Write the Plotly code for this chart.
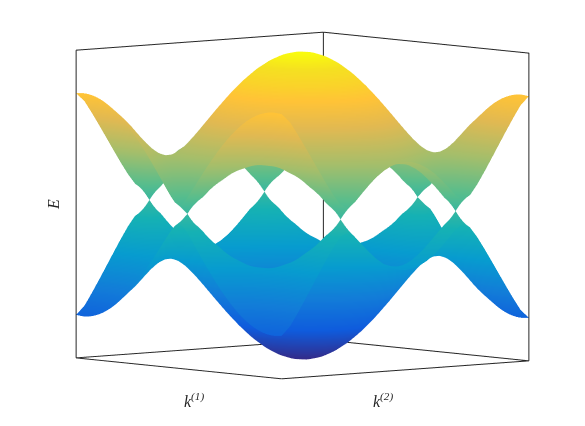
"""Two-band dispersion surface over (k1, k2), drawn as a pair of 3D sheets."""

import numpy as np
import plotly.graph_objects as go

# positive half of each axis; the picture is mirror symmetric about both
K1_HALF = [0.0, 0.131, 0.262, 0.393, 0.524, 0.654, 0.785, 0.916, 1.047, 1.178, 1.309, 1.440, 1.571,
           1.702, 1.833, 1.963, 2.094, 2.225, 2.356, 2.487, 2.618, 2.749, 2.880, 3.011, 3.142, 3.380]
K2_HALF = [0.0, 0.131, 0.262, 0.393, 0.524, 0.654, 0.785, 0.916, 1.047, 1.178, 1.309, 1.440, 1.571,
           1.702, 1.833, 1.963, 2.094, 2.250]

# upper band height, rows follow K2_HALF, columns K1_HALF
E_QUADRANT = [
    [3.000, 2.994, 2.977, 2.949, 2.909, 2.859, 2.798, 2.727, 2.646, 2.556, 2.457, 2.350, 2.236,
     2.116, 1.991, 1.863, 1.732, 1.602, 1.474, 1.351, 1.239, 1.142, 1.066, 1.017, 1.000, 1.055],
    [2.983, 2.977, 2.960, 2.932, 2.893, 2.842, 2.781, 2.710, 2.630, 2.540, 2.441, 2.335, 2.221,
     2.101, 1.976, 1.848, 1.717, 1.587, 1.459, 1.336, 1.224, 1.126, 1.049, 1.000, 0.983, 1.038],
    [2.932, 2.926, 2.909, 2.881, 2.842, 2.792, 2.732, 2.662, 2.581, 2.492, 2.394, 2.288, 2.175,
     2.056, 1.932, 1.804, 1.673, 1.543, 1.414, 1.291, 1.177, 1.078, 1.000, 0.949, 0.932, 0.988],
    [2.848, 2.842, 2.826, 2.798, 2.760, 2.710, 2.651, 2.581, 2.502, 2.414, 2.318, 2.213, 2.101,
     1.983, 1.859, 1.732, 1.602, 1.471, 1.342, 1.217, 1.101, 1.000, 0.919, 0.866, 0.847, 0.906],
    [2.732, 2.727, 2.710, 2.683, 2.646, 2.598, 2.540, 2.472, 2.394, 2.308, 2.213, 2.110, 2.000,
     1.884, 1.762, 1.635, 1.506, 1.375, 1.245, 1.119, 1.000, 0.894, 0.809, 0.752, 0.732, 0.796],
    [2.587, 2.582, 2.566, 2.540, 2.503, 2.457, 2.400, 2.335, 2.259, 2.176, 2.083, 1.983, 1.876,
     1.762, 1.642, 1.518, 1.390, 1.259, 1.129, 1.000, 0.877, 0.766, 0.672, 0.609, 0.587, 0.658],
    [2.414, 2.409, 2.394, 2.369, 2.334, 2.290, 2.236, 2.173, 2.101, 2.020, 1.932, 1.835, 1.732,
     1.622, 1.506, 1.385, 1.259, 1.130, 1.000, 0.869, 0.742, 0.622, 0.518, 0.443, 0.414, 0.501],
    [2.217, 2.213, 2.199, 2.175, 2.143, 2.101, 2.050, 1.991, 1.924, 1.848, 1.764, 1.673, 1.575,
     1.471, 1.361, 1.245, 1.124, 1.000, 0.874, 0.742, 0.611, 0.482, 0.361, 0.261, 0.217, 0.339],
    [2.000, 1.996, 1.983, 1.962, 1.932, 1.894, 1.848, 1.794, 1.732, 1.663, 1.587, 1.504, 1.414,
     1.319, 1.217, 1.111, 1.000, 0.884, 0.765, 0.643, 0.518, 0.390, 0.261, 0.131, 0.000, 0.237],
    [1.766, 1.762, 1.751, 1.732, 1.706, 1.674, 1.633, 1.587, 1.534, 1.474, 1.408, 1.336, 1.259,
     1.177, 1.091, 1.000, 0.906, 0.809, 0.710, 0.609, 0.510, 0.415, 0.327, 0.261, 0.235, 0.313],
    [1.518, 1.515, 1.506, 1.491, 1.471, 1.445, 1.414, 1.378, 1.336, 1.290, 1.239, 1.184, 1.126,
     1.064, 1.000, 0.934, 0.866, 0.799, 0.732, 0.669, 0.609, 0.559, 0.518, 0.492, 0.483, 0.512],
    [1.261, 1.259, 1.254, 1.245, 1.233, 1.217, 1.199, 1.177, 1.153, 1.126, 1.097, 1.066, 1.033,
     1.000, 0.966, 0.932, 0.898, 0.866, 0.836, 0.809, 0.785, 0.766, 0.751, 0.742, 0.739, 0.749],
    [1.000, 1.000, 1.000, 1.000, 1.000, 1.000, 1.000, 1.000, 1.000, 1.000, 1.000, 1.000, 1.000,
     1.000, 1.000, 1.000, 1.000, 1.000, 1.000, 1.000, 1.000, 1.000, 1.000, 1.000, 1.000, 1.000],
    [0.739, 0.742, 0.751, 0.766, 0.785, 0.809, 0.836, 0.866, 0.898, 0.932, 0.966, 1.000, 1.033,
     1.066, 1.097, 1.126, 1.153, 1.177, 1.199, 1.217, 1.233, 1.245, 1.254, 1.259, 1.261, 1.255],
    [0.483, 0.492, 0.518, 0.559, 0.609, 0.669, 0.732, 0.799, 0.866, 0.934, 1.000, 1.064, 1.126,
     1.184, 1.239, 1.290, 1.336, 1.378, 1.414, 1.445, 1.471, 1.491, 1.506, 1.515, 1.518, 1.508],
    [0.235, 0.261, 0.327, 0.415, 0.510, 0.609, 0.710, 0.809, 0.906, 1.000, 1.091, 1.177, 1.259,
     1.336, 1.408, 1.474, 1.534, 1.587, 1.633, 1.674, 1.706, 1.732, 1.751, 1.762, 1.766, 1.753],
    [0.000, 0.131, 0.261, 0.390, 0.518, 0.643, 0.765, 0.884, 1.000, 1.111, 1.217, 1.319, 1.414,
     1.504, 1.587, 1.663, 1.732, 1.794, 1.848, 1.894, 1.932, 1.962, 1.983, 1.996, 2.000, 1.986],
    [0.176, 0.226, 0.333, 0.458, 0.588, 0.719, 0.849, 0.976, 1.099, 1.218, 1.333, 1.442, 1.544,
     1.641, 1.730, 1.813, 1.887, 1.954, 2.012, 2.062, 2.103, 2.135, 2.158, 2.172, 2.177, 2.162],
]

E_LIMIT = 3.0

PARULA = [
    [0.000, "#352a87"], [0.111, "#0f5cdd"], [0.222, "#127dd8"], [0.333, "#079ccf"],
    [0.444, "#15b1b4"], [0.556, "#59bd8c"], [0.667, "#a5be6b"], [0.778, "#e1b952"],
    [0.857, "#ffc337"], [0.905, "#fad32a"], [0.952, "#f5e021"], [1.000, "#f9fb0e"],
]
FONT = "Liberation Serif"


def mirror_axis(half):
    half = np.array(half)
    return np.concatenate([-half[:0:-1], half])


def mirror_grid(quadrant):
    q = np.array(quadrant)
    q = np.concatenate([q[:0:-1, :], q], axis=0)
    return np.concatenate([q[:, :0:-1], q], axis=1)


k1 = mirror_axis(K1_HALF)
k2 = mirror_axis(K2_HALF)
upper = mirror_grid(E_QUADRANT)

fig = go.Figure()

for sheet in (upper, -upper):
    fig.add_trace(go.Surface(
        x=k1, y=k2, z=sheet,
        cmin=-E_LIMIT, cmax=E_LIMIT,
        colorscale=PARULA,
        showscale=False,
        hoverinfo="skip",
        lighting=dict(ambient=1, diffuse=0, specular=0, fresnel=0, roughness=1),
    ))

# back planes of the box only, as in the reference
x0, x1 = k1[0], k1[-1]
y0, y1 = k2[0], k2[-1]
z0, z1 = -E_LIMIT, E_LIMIT
box_x = [x0, x1, x1, x0, x0, None, x0, x0, x1, x1, None, x0, x0, None, x0, x0]
box_y = [y0, y0, y1, y1, y0, None, y0, y1, y1, y1, None, y0, y0, None, y1, y1]
box_z = [z0, z0, z0, z0, z0, None, z1, z1, z1, z0, None, z0, z1, None, z0, z1]
fig.add_trace(go.Scatter3d(
    x=box_x, y=box_y, z=box_z,
    mode="lines",
    line=dict(color="#262626", width=2),
    hoverinfo="skip",
    showlegend=False,
))

hidden_axis = dict(
    visible=False, showgrid=False, zeroline=False, showbackground=False,
    showticklabels=False, showspikes=False, title="",
)
annotation_font = dict(family=FONT, size=16, color="#262626")
fig.update_layout(
    width=585, height=426,
    margin=dict(l=0, r=0, t=0, b=0),
    paper_bgcolor="white",
    showlegend=False,
    scene=dict(
        domain=dict(x=[4 / 585, 1], y=[0, 1]),
        xaxis=dict(hidden_axis, range=[x0, x1]),
        yaxis=dict(hidden_axis, range=[y0, y1]),
        zaxis=dict(hidden_axis, range=[z0, z1]),
        aspectmode="manual",
        aspectratio=dict(x=1.495, y=1.52, z=1.45),
        camera=dict(
            projection=dict(type="orthographic"),
            eye=dict(x=3.04, y=-2.57, z=0.271),
            center=dict(x=0, y=0, z=-0.073),
            up=dict(x=0, y=0, z=1),
        ),
    ),
    annotations=[
        dict(text="<i>k</i><sup><i>(1)</i></sup>", x=186 / 585, y=1 - 392 / 426, xref="paper", yref="paper",
             xanchor="center", yanchor="middle", showarrow=False, font=annotation_font),
        dict(text="<i>k</i><sup><i>(2)</i></sup>", x=375 / 585, y=1 - 392 / 426, xref="paper", yref="paper",
             xanchor="center", yanchor="middle", showarrow=False, font=annotation_font),
        dict(text="<i>E</i>", x=45 / 585, y=1 - 197 / 426, xref="paper", yref="paper", textangle=-90,
             xanchor="center", yanchor="middle", showarrow=False, font=annotation_font),
    ],
)

fig.write_html("out.html")
